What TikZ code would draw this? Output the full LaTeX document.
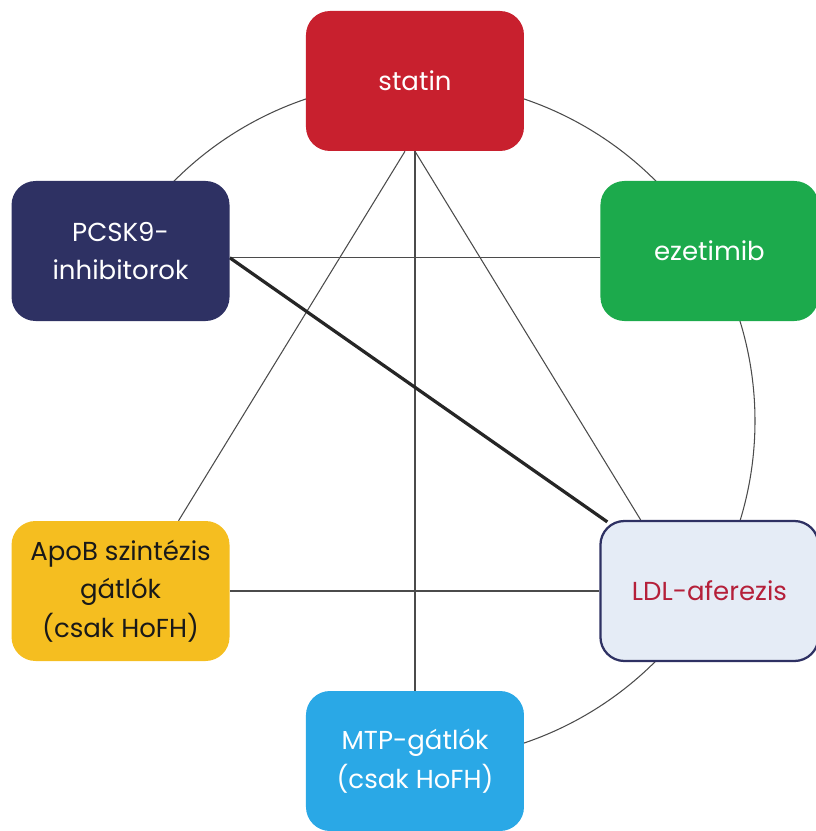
\documentclass[tikz,border=0pt]{standalone}
\usepackage{fontspec}
\setmainfont{Poppins}
\usetikzlibrary{backgrounds}

\definecolor{statinred}{RGB}{200,32,46}
\definecolor{pcsknavy}{RGB}{46,49,99}
\definecolor{ezegreen}{RGB}{28,170,76}
\definecolor{apobyellow}{RGB}{245,190,32}
\definecolor{ldlpale}{RGB}{229,236,246}
\definecolor{ldltext}{RGB}{181,32,58}
\definecolor{mtpblue}{RGB}{42,168,230}
\definecolor{linegrey}{RGB}{75,75,75}

\newcommand{\R}{8.5cm}

\begin{document}
\begin{tikzpicture}[
    font=\fontsize{18.5}{27.5}\selectfont,
    box/.style={rectangle, rounded corners=0.6cm, minimum width=5.45cm, minimum height=3.5cm, align=center, text=white},
    ring/.style={draw=linegrey, line width=0.75pt},
    link/.style={draw=linegrey, line width=0.75pt},
    strong/.style={draw=black!85, line width=2.3pt}
]
\useasboundingbox (-10.375,-10.25) rectangle (10.025,10.525);
\coordinate (hub) at (0,0);

% six treatment boxes round the ring
\node[box, fill=statinred] (statin) at (90:\R) {statin};
\node[box, fill=pcsknavy] (pcsk9) at (150:\R) {PCSK9-\\inhibitorok};
\node[box, fill=ezegreen] (ezetimib) at (30:\R) {ezetimib};
\node[box, fill=apobyellow, text=black!90] (apob) at (210:\R) {ApoB szintézis\\gátlók\\(csak HoFH)};
\node[box, fill=ldlpale, draw=pcsknavy, line width=1.6pt, text=ldltext] (ldl) at (-30:\R) {LDL-aferezis};
\node[box, fill=mtpblue] (mtp) at (-90:\R) {MTP-gátlók\\(csak HoFH)};

\begin{scope}[on background layer]
% pieces of the ring, ends tucked under the boxes
\draw[ring] (100:\R) arc[start angle=100, end angle=145, radius=\R];
\draw[ring] (80:\R) arc[start angle=80, end angle=35, radius=\R];
\draw[ring] (25:\R) arc[start angle=25, end angle=-25, radius=\R];
\draw[ring] (-35:\R) arc[start angle=-35, end angle=-80, radius=\R];
% combinations
\draw[link] ([xshift=-0.25cm]statin.south) -- ([xshift=1.45cm]apob.north);
\draw[link] (statin.south) -- (mtp.north);
\draw[link] (statin.south) -- ([xshift=-1.72cm]ldl.north);
\draw[link] ([yshift=-0.17cm]pcsk9.east) -- ([yshift=-0.17cm]ezetimib.west);
\draw[link] (apob.east) -- (ldl.west);
\draw[strong] ([yshift=-0.17cm]pcsk9.east) -- ([shift={(0.2cm,-0.05cm)}]ldl.north west);
\end{scope}
\end{tikzpicture}
\end{document}
